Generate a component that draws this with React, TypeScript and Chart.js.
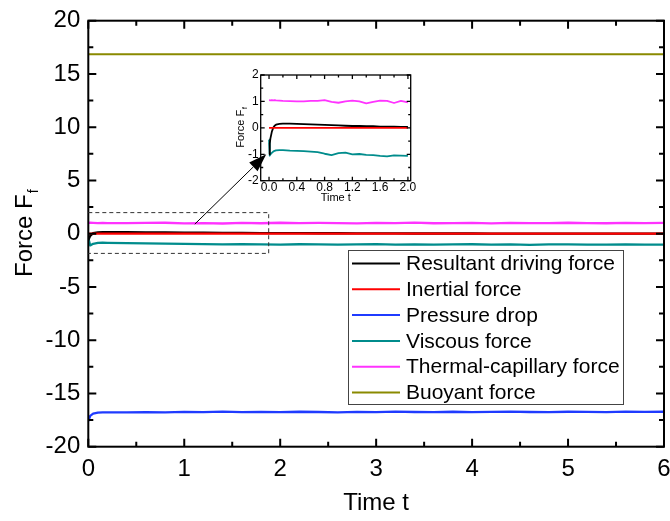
import { useEffect, useRef } from 'react';
import { Chart, registerables } from 'chart.js';

Chart.register(...registerables);

const FONT = '"Liberation Sans", Arial, Helvetica, sans-serif';

// Legend order
const seriesNames = [
  'Resultant driving force',
  'Inertial force',
  'Pressure drop',
  'Viscous force',
  'Thermal-capillary force',
  'Buoyant force',
];
const seriesColors = ['#000000', '#FF0000', '#1F3BFF', '#008C8C', '#FF33FF', '#8A8A00'];

// ---- Main plot (t = 0..6) ----
const timeMain = [
  0, 0.02, 0.05, 0.1, 0.15, 0.2,
  0.4, 0.6, 0.8, 1.0, 1.2, 1.4, 1.6, 1.8, 2.0, 2.2,
  2.4, 2.6, 2.8, 3.0, 3.2, 3.4, 3.6, 3.8, 4.0, 4.2,
  4.4, 4.6, 4.8, 5.0, 5.2, 5.4, 5.6, 5.8, 6.0,
];
const resultantMain = [
  -0.6, -0.2, 0.05, 0.12, 0.14, 0.15,
  0.14, 0.13, 0.12, 0.1, 0.09, 0.08, 0.07, 0.06, 0.05, 0.05,
  0.04, 0.04, 0.03, 0.03, 0.03, 0.02, 0.02, 0.02, 0.02, 0.01,
  0.01, 0.01, 0.01, 0.01, 0.01, 0.01, 0.0, 0.0, 0.0,
];
const inertialTimeMain = [0, 6];
const inertialMain = [0, 0];
const pressureMain = [
  -17.6, -17.1, -16.9, -16.8, -16.78, -16.77,
  -16.77, -16.75, -16.78, -16.73, -16.75, -16.71, -16.76, -16.73, -16.75, -16.72,
  -16.74, -16.77, -16.73, -16.75, -16.71, -16.74, -16.76, -16.72, -16.75, -16.73,
  -16.71, -16.74, -16.75, -16.72, -16.73, -16.75, -16.71, -16.73, -16.72,
];
const viscousMain = [
  -0.4, -1.1, -0.95, -0.86, -0.85, -0.86,
  -0.88, -0.9, -0.93, -0.96, -0.98, -1.0, -0.97, -1.0, -1.02, -0.99,
  -1.01, -1.03, -1.0, -0.98, -1.02, -1.0, -1.03, -1.01, -0.99, -1.02,
  -1.0, -1.04, -1.01, -1.0, -1.03, -1.02, -1.0, -1.03, -1.02,
];
const thermalMain = [
  1.02, 1.03, 1.02, 1.0, 1.01, 1.0,
  1.0, 1.01, 1.03, 0.97, 1.0, 0.96, 1.02, 0.98, 1.03, 0.99,
  1.01, 1.0, 0.97, 1.02, 1.0, 1.04, 0.98, 1.0, 1.01, 0.97,
  1.02, 1.0, 0.99, 1.03, 1.0, 0.98, 1.01, 1.0, 1.02,
];
const buoyantTimeMain = [0, 6];
const buoyantMain = [16.86, 16.86];

const xTicksMain = [0, 1, 2, 3, 4, 5, 6];
const yTicksMain = [-20, -15, -10, -5, 0, 5, 10, 15, 20];

// ---- Inset (t = 0..2) ----
const timeInset = [
  0, 0.01, 0.02, 0.04, 0.06, 0.08, 0.1, 0.15,
  0.2, 0.3, 0.4, 0.5, 0.6, 0.7, 0.8, 0.9, 1.0, 1.1,
  1.2, 1.3, 1.4, 1.5, 1.6, 1.7, 1.8, 1.9, 2.0,
];
const resultantInset = [
  -1.0, -0.6, -0.4, -0.15, 0.0, 0.08, 0.12, 0.15,
  0.16, 0.16, 0.15, 0.14, 0.13, 0.12, 0.11, 0.1, 0.09, 0.08,
  0.07, 0.07, 0.06, 0.06, 0.05, 0.05, 0.05, 0.04, 0.04,
];
const inertialTimeInset = [0, 2];
const inertialInset = [0, 0];
const viscousInset = [
  -0.45, -1.05, -1.0, -0.95, -0.9, -0.87, -0.85, -0.84,
  -0.84, -0.86, -0.87, -0.88, -0.9, -0.92, -0.98, -1.03, -0.96, -0.94,
  -1.0, -0.99, -1.02, -1.03, -1.06, -1.08, -1.04, -1.05, -1.06,
];
const thermalInset = [
  1.05, 1.05, 1.04, 1.05, 1.04, 1.05, 1.04, 1.03,
  1.02, 1.01, 1.0, 1.0, 1.02, 1.02, 1.05, 0.98, 0.95, 1.0,
  1.03, 1.0, 0.93, 0.98, 1.03, 1.02, 0.94, 1.02, 0.96,
];

const xTicksInset = [0, 0.4, 0.8, 1.2, 1.6, 2.0];
const yTicksInset = [-2, -1, 0, 1, 2];

const pairs = (xs: number[], ys: number[]) => xs.map((x, i) => ({ x, y: ys[i] }));

// draw order: red on top, black just below, the rest underneath
const drawOrder = [1, 0, 2, 2, 2, 2];

function makeDatasets(parts: { x: number; y: number }[][], width: number, buoyantWidth: number) {
  return parts.map((data, i) => ({
    label: seriesNames[i],
    data,
    borderColor: seriesColors[i],
    backgroundColor: seriesColors[i],
    borderWidth: i === 5 ? buoyantWidth : width,
    pointRadius: 0,
    tension: 0,
    fill: false,
    order: drawOrder[i],
    borderJoinStyle: 'round' as const,
  }));
}

type FrameCfg = {
  xFrom: number; xTo: number; xMinor: number; xMajor: number;
  yFrom: number; yTo: number; yMinor: number; yMajor: number;
  major: number; minor: number; lw: number;
};

function isMultiple(v: number, step: number) {
  const q = v / step;
  return Math.abs(q - Math.round(q)) < 1e-6;
}

// Box frame with inward ticks on all four sides
function drawFrame(chart: Chart, c: FrameCfg) {
  const { ctx, chartArea: a } = chart;
  const xs = chart.scales.x;
  const ys = chart.scales.y;
  ctx.save();
  ctx.strokeStyle = '#000';
  ctx.lineWidth = c.lw;
  ctx.lineCap = 'butt';
  ctx.beginPath();
  const nx = Math.round((c.xTo - c.xFrom) / c.xMinor);
  for (let i = 0; i <= nx; i++) {
    const v = c.xFrom + i * c.xMinor;
    const len = isMultiple(v, c.xMajor) ? c.major : c.minor;
    const p = xs.getPixelForValue(v);
    ctx.moveTo(p, a.bottom);
    ctx.lineTo(p, a.bottom - len);
    ctx.moveTo(p, a.top);
    ctx.lineTo(p, a.top + len);
  }
  const ny = Math.round((c.yTo - c.yFrom) / c.yMinor);
  for (let i = 0; i <= ny; i++) {
    const v = c.yFrom + i * c.yMinor;
    const len = isMultiple(v, c.yMajor) ? c.major : c.minor;
    const p = ys.getPixelForValue(v);
    ctx.moveTo(a.left, p);
    ctx.lineTo(a.left + len, p);
    ctx.moveTo(a.right, p);
    ctx.lineTo(a.right - len, p);
  }
  ctx.stroke();
  ctx.strokeRect(a.left, a.top, a.right - a.left, a.bottom - a.top);
  ctx.restore();
}

function drawYTitle(ctx: CanvasRenderingContext2D, baseX: number, centerY: number, size: number, subSize: number, subDrop: number) {
  ctx.save();
  ctx.translate(baseX, centerY);
  ctx.rotate(-Math.PI / 2);
  ctx.fillStyle = '#000';
  ctx.textAlign = 'left';
  ctx.textBaseline = 'alphabetic';
  ctx.font = `${size}px ${FONT}`;
  const w1 = ctx.measureText('Force F').width;
  ctx.font = `${subSize}px ${FONT}`;
  const w2 = ctx.measureText('f').width;
  const start = -(w1 + w2) / 2;
  ctx.font = `${size}px ${FONT}`;
  ctx.fillText('Force F', start, 0);
  ctx.font = `${subSize}px ${FONT}`;
  ctx.fillText('f', start + w1 + 1, subDrop);
  ctx.restore();
}

export default function App() {
  const mainRef = useRef<HTMLCanvasElement>(null);
  const insetRef = useRef<HTMLCanvasElement>(null);

  useEffect(() => {
    if (!mainRef.current || !insetRef.current) return;

    const mainDecor = {
      id: 'mainDecor',
      afterDraw(chart: Chart) {
        const { ctx, chartArea: a } = chart;
        const xs = chart.scales.x;
        const ys = chart.scales.y;
        drawFrame(chart, {
          xFrom: 0, xTo: 6, xMinor: 0.5, xMajor: 1,
          yFrom: -20, yTo: 20, yMinor: 2.5, yMajor: 5,
          major: 8, minor: 5, lw: 2,
        });

        // zoom window around the start-up transient
        ctx.save();
        ctx.strokeStyle = '#333';
        ctx.lineWidth = 1;
        ctx.setLineDash([4, 3]);
        const rx0 = xs.getPixelForValue(0);
        const rx1 = xs.getPixelForValue(1.88);
        const ry0 = ys.getPixelForValue(1.98);
        const ry1 = ys.getPixelForValue(-1.85);
        ctx.beginPath();
        ctx.moveTo(rx0, ry0);
        ctx.lineTo(rx1, ry0);
        ctx.lineTo(rx1, ry1);
        ctx.lineTo(rx0, ry1);
        ctx.stroke();
        ctx.restore();

        // legend
        const lx = 348, ly = 250, lw = 275, lh = 154;
        ctx.save();
        ctx.fillStyle = '#fff';
        ctx.fillRect(lx, ly, lw, lh);
        ctx.strokeStyle = '#444';
        ctx.lineWidth = 1;
        ctx.strokeRect(lx + 0.5, ly + 0.5, lw, lh);
        ctx.font = `21px ${FONT}`;
        ctx.textBaseline = 'middle';
        ctx.textAlign = 'left';
        chart.data.datasets.forEach((ds, i) => {
          const yy = ly + 13.5 + i * 25.8;
          ctx.strokeStyle = ds.borderColor as string;
          ctx.lineWidth = 2;
          ctx.beginPath();
          ctx.moveTo(352, yy);
          ctx.lineTo(400, yy);
          ctx.stroke();
          ctx.fillStyle = '#000';
          ctx.fillText(ds.label as string, 406, yy + 1);
        });
        ctx.restore();

        // axis titles
        ctx.save();
        ctx.fillStyle = '#000';
        ctx.font = `24px ${FONT}`;
        ctx.textAlign = 'center';
        ctx.textBaseline = 'alphabetic';
        ctx.fillText('Time t', (a.left + a.right) / 2, 510);
        ctx.restore();
        drawYTitle(ctx, 32, (a.top + a.bottom) / 2, 24, 14, 6);
      },
    };

    const main = new Chart(mainRef.current, {
      type: 'line',
      data: {
        datasets: makeDatasets(
          [
            pairs(timeMain, resultantMain),
            pairs(inertialTimeMain, inertialMain),
            pairs(timeMain, pressureMain),
            pairs(timeMain, viscousMain),
            pairs(timeMain, thermalMain),
            pairs(buoyantTimeMain, buoyantMain),
          ],
          2.3,
          2
        ),
      },
      options: {
        animation: false,
        responsive: false,
        devicePixelRatio: 1,
        layout: { padding: { left: 0, right: 6, top: 20.7, bottom: 0 } },
        plugins: { legend: { display: false }, tooltip: { enabled: false } },
        scales: {
          x: {
            type: 'linear',
            min: 0,
            max: 6,
            grid: { display: false, drawTicks: false },
            border: { display: false },
            ticks: { color: '#000', font: { family: FONT, size: 24 }, padding: 8, maxRotation: 0, autoSkip: false },
            afterBuildTicks: (s: any) => { s.ticks = xTicksMain.map((v) => ({ value: v })); },
            afterFit: (s: any) => { s.height = 74.3; s.paddingLeft = 0; s.paddingRight = 0; },
          },
          y: {
            type: 'linear',
            min: -20,
            max: 20,
            grid: { display: false, drawTicks: false },
            border: { display: false },
            ticks: { color: '#000', font: { family: FONT, size: 24 }, padding: 8, autoSkip: false },
            afterBuildTicks: (s: any) => { s.ticks = yTicksMain.map((v) => ({ value: v })); },
            afterFit: (s: any) => { s.width = 88.3; s.paddingTop = 0; s.paddingBottom = 0; },
          },
        },
      },
      plugins: [mainDecor],
    });

    const insetLeft = 190, insetTop = 55;

    const insetDecor = {
      id: 'insetDecor',
      afterDraw(chart: Chart) {
        const { ctx, chartArea: a } = chart;
        drawFrame(chart, {
          xFrom: 0, xTo: 2, xMinor: 0.2, xMajor: 0.4,
          yFrom: -2, yTo: 2, yMinor: 0.5, yMajor: 1,
          major: 4, minor: 2.5, lw: 1.3,
        });
        ctx.save();
        ctx.fillStyle = '#000';
        ctx.font = `11px ${FONT}`;
        ctx.textAlign = 'center';
        ctx.textBaseline = 'alphabetic';
        ctx.fillText('Time t', (a.left + a.right) / 2, 201 - insetTop);
        ctx.restore();
        drawYTitle(ctx, 244 - insetLeft, (a.top + a.bottom) / 2, 11, 7, 3);

        // pointer from the zoom window to the inset
        const tailX = main.scales.x.getPixelForValue(1.11) - insetLeft;
        const tailY = main.scales.y.getPixelForValue(0.9) - insetTop;
        const tipX = chart.scales.x.getPixelForValue(-0.04);
        const tipY = chart.scales.y.getPixelForValue(-1.0);
        const ang = Math.atan2(tipY - tailY, tipX - tailX);
        const headLen = 18, headHalf = 6;
        const bx = tipX - headLen * Math.cos(ang);
        const by = tipY - headLen * Math.sin(ang);
        ctx.save();
        ctx.strokeStyle = '#000';
        ctx.fillStyle = '#000';
        ctx.lineWidth = 1;
        ctx.beginPath();
        ctx.moveTo(tailX, tailY);
        ctx.lineTo(bx, by);
        ctx.stroke();
        ctx.beginPath();
        ctx.moveTo(tipX, tipY);
        ctx.lineTo(bx + headHalf * Math.sin(ang), by - headHalf * Math.cos(ang));
        ctx.lineTo(bx - headHalf * Math.sin(ang), by + headHalf * Math.cos(ang));
        ctx.closePath();
        ctx.fill();
        ctx.restore();
      },
    };

    const inset = new Chart(insetRef.current, {
      type: 'line',
      data: {
        datasets: makeDatasets(
          [
            pairs(timeInset, resultantInset),
            pairs(inertialTimeInset, inertialInset),
            [],
            pairs(timeInset, viscousInset),
            pairs(timeInset, thermalInset),
            [],
          ],
          1.8,
          1.8
        ),
      },
      options: {
        animation: false,
        responsive: false,
        devicePixelRatio: 1,
        layout: { padding: { left: 0, right: 19.3, top: 20, bottom: 0 } },
        plugins: { legend: { display: false }, tooltip: { enabled: false } },
        scales: {
          x: {
            type: 'linear',
            min: -0.12,
            max: 2.04,
            grid: { display: false, drawTicks: false },
            border: { display: false },
            ticks: {
              color: '#000', font: { family: FONT, size: 12 }, padding: 0, maxRotation: 0, autoSkip: false,
              callback: (v: any) => Number(v).toFixed(1),
            },
            afterBuildTicks: (s: any) => { s.ticks = xTicksInset.map((v) => ({ value: v })); },
            afterFit: (s: any) => { s.height = 54.3; s.paddingLeft = 0; s.paddingRight = 0; },
          },
          y: {
            type: 'linear',
            min: -2,
            max: 2,
            grid: { display: false, drawTicks: false },
            border: { display: false },
            ticks: { color: '#000', font: { family: FONT, size: 12 }, padding: 2, autoSkip: false },
            afterBuildTicks: (s: any) => { s.ticks = yTicksInset.map((v) => ({ value: v })); },
            afterFit: (s: any) => { s.width = 70.7; s.paddingTop = 0; s.paddingBottom = 0; },
          },
        },
      },
      plugins: [insetDecor],
    });

    return () => {
      inset.destroy();
      main.destroy();
    };
  }, []);

  return (
    <div style={{ position: 'fixed', left: 0, top: 0, width: 670, height: 521, background: '#fff' }}>
      <canvas ref={mainRef} width={670} height={521} style={{ position: 'absolute', left: 0, top: 0 }} />
      <canvas ref={insetRef} width={240} height={180} style={{ position: 'absolute', left: 190, top: 55 }} />
    </div>
  );
}
